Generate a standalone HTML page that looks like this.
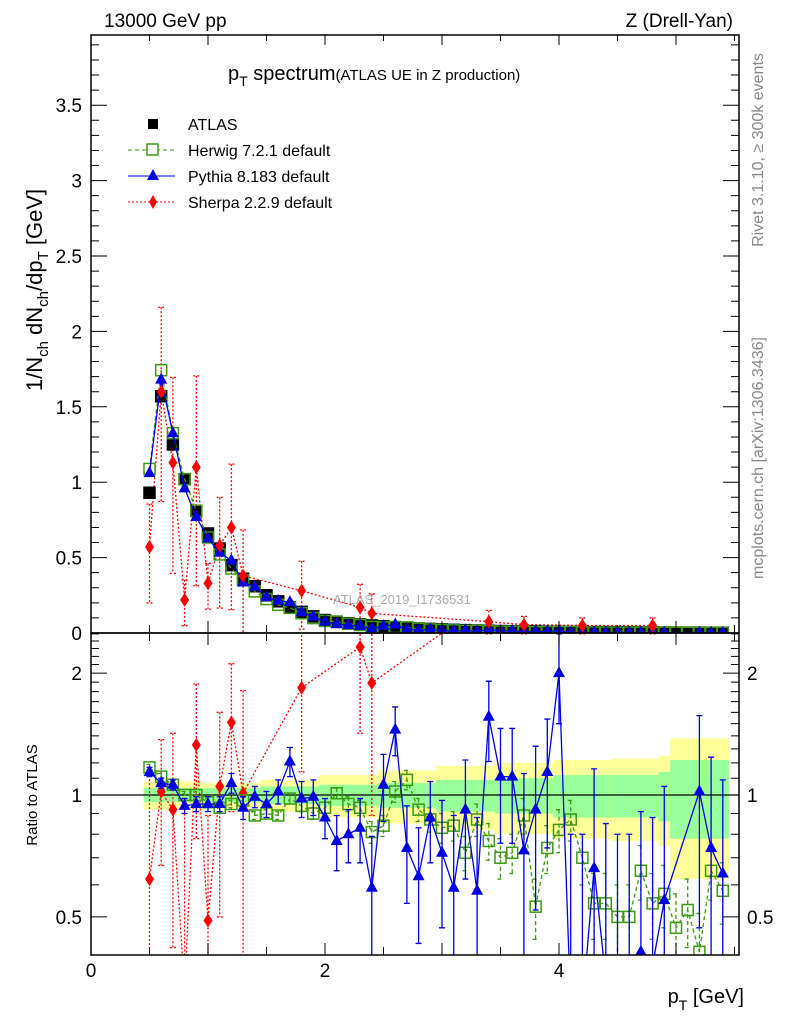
<!DOCTYPE html>
<html><head><meta charset="utf-8"><style>
html,body{margin:0;padding:0;background:#fff;width:786px;height:1024px;overflow:hidden;}
svg{display:block;font-family:"Liberation Sans",Arial,sans-serif;}
</style></head><body>
<svg id="chart" width="786" height="1024" viewBox="0 0 786 1024" xmlns="http://www.w3.org/2000/svg">
<defs>
<clipPath id="clipMain"><rect x="91" y="35" width="648" height="598"/></clipPath>
<clipPath id="clipRatio"><rect x="91" y="633" width="648" height="322"/></clipPath>
</defs>
<g id="bands" clip-path="url(#clipRatio)"></g>
<g id="mainMarks" clip-path="url(#clipMain)"></g>
<g id="ratioMarks" clip-path="url(#clipRatio)"></g>
<g id="axes"></g>
<text x="104" y="27" font-size="19">13000 GeV pp</text>
<text x="733" y="27" font-size="19" text-anchor="end">Z (Drell-Yan)</text>
<text x="228" y="80" font-size="20">p<tspan font-size="14" dy="6">T</tspan><tspan dy="-6"> spectrum</tspan><tspan font-size="15">(ATLAS UE in Z production)</tspan></text>
<text x="333" y="604" font-size="13" fill="#aaa">ATLAS_2019_I1736531</text>
<text transform="translate(763,150) rotate(-90)" font-size="16" fill="#888" text-anchor="middle">Rivet 3.1.10, ≥ 300k events</text>
<text transform="translate(763,458) rotate(-90)" font-size="16" fill="#888" text-anchor="middle">mcplots.cern.ch [arXiv:1306.3436]</text>
<text transform="translate(42,290) rotate(-90)" font-size="22" text-anchor="middle">1/N<tspan font-size="15" dy="6">ch</tspan><tspan dy="-6"> dN</tspan><tspan font-size="15" dy="6">ch</tspan><tspan dy="-6">/dp</tspan><tspan font-size="15" dy="6">T</tspan><tspan dy="-6"> [GeV]</tspan></text>
<text transform="translate(37,795) rotate(-90)" font-size="15" text-anchor="middle">Ratio to ATLAS</text>
<text x="744" y="1003" font-size="20" text-anchor="end">p<tspan font-size="14" dy="7">T</tspan><tspan dy="-7"> [GeV]</tspan></text>
<g id="legend">
<rect x="148" y="119" width="10" height="10" fill="#000"/>
<text x="188" y="130" font-size="16">ATLAS</text>
<line x1="128" y1="150" x2="175" y2="150" stroke="#3a9a10" stroke-dasharray="4,3"/>
<rect x="147" y="144" width="11" height="11" fill="#fff" stroke="#3a9a10" stroke-width="1.5"/>
<text x="188" y="156" font-size="16">Herwig 7.2.1 default</text>
<line x1="128" y1="176" x2="175" y2="176" stroke="#0000e0"/>
<path d="M153,169 L159,180 L147,180 Z" fill="#0000e0"/>
<text x="188" y="182" font-size="16">Pythia 8.183 default</text>
<line x1="128" y1="202" x2="175" y2="202" stroke="#f00" stroke-dasharray="2,2"/>
<path d="M153,195 L157,202 L153,209 L149,202 Z" fill="#f00"/>
<text x="188" y="208" font-size="16">Sherpa 2.2.9 default</text>
</g>
</svg>
<script>
const pt = [0.5,0.6,0.7,0.8,0.9,1.0,1.1,1.2,1.3,1.4,1.5,1.6,1.7,1.8,1.9,2.0,2.1,2.2,2.3,2.4,2.5,2.6,2.7,2.8,2.9,3.0,3.1,3.2,3.3,3.4,3.5,3.6,3.7,3.8,3.9,4.0,4.1,4.2,4.3,4.4,4.5,4.6,4.7,4.8,4.9,5.0,5.1,5.2,5.3,5.4];
const atlas = [0.93,1.57,1.25,1.02,0.81,0.66,0.56,0.45,0.36,0.31,0.25,0.21,0.17,0.14,0.11,0.086,0.075,0.065,0.057,0.05,0.044,0.039,0.034,0.030,0.027,0.024,0.021,0.019,0.017,0.015,0.013,0.012,0.011,0.010,0.009,0.008,0.007,0.0065,0.006,0.0055,0.005,0.0045,0.004,0.0037,0.0034,0.003,0.0028,0.0026,0.0024,0.0022];
const herwigRatio = [1.17,1.11,1.06,1.0,1.0,0.96,0.93,0.95,0.97,0.89,0.9,0.89,0.98,0.94,0.9,0.93,1.01,0.95,0.93,0.81,0.84,1.02,1.09,0.92,0.87,0.83,0.84,0.72,0.87,0.77,0.70,0.72,0.89,0.53,0.74,0.82,0.87,0.70,0.54,0.54,0.50,0.50,0.65,0.54,0.57,0.47,0.52,0.41,0.65,0.58];
const herwigErr = [0.02,0.02,0.02,0.02,0.02,0.02,0.02,0.02,0.02,0.02,0.02,0.02,0.03,0.03,0.03,0.03,0.03,0.04,0.04,0.05,0.05,0.06,0.06,0.06,0.06,0.07,0.07,0.07,0.08,0.08,0.08,0.08,0.09,0.09,0.1,0.1,0.1,0.1,0.1,0.1,0.1,0.1,0.1,0.1,0.1,0.1,0.1,0.1,0.1,0.1];
const pythiaRatio = [1.14,1.07,1.06,0.94,0.95,0.95,0.95,1.07,0.93,0.99,0.95,1.02,1.21,0.98,0.99,0.88,0.77,0.80,0.83,0.59,1.06,1.45,0.74,0.63,0.88,0.72,0.59,0.92,0.58,1.56,1.11,1.11,0.73,0.92,1.14,2.0,0.3,0.3,0.66,0.35,0.3,0.3,0.41,0.38,0.55,null,null,1.02,0.74,0.64];
const pythiaErr = [0.03,0.03,0.03,0.04,0.04,0.04,0.04,0.06,0.06,0.06,0.07,0.07,0.1,0.1,0.1,0.1,0.12,0.12,0.15,0.2,0.2,0.2,0.2,0.2,0.2,0.25,0.3,0.3,0.3,0.35,0.35,0.35,0.4,0.4,0.4,0.5,0.5,0.5,0.5,0.5,0.5,0.5,0.5,0.5,0.5,0.5,0.5,0.55,0.5,0.45];
const sherpaPt = [0.5,0.6,0.7,0.8,0.9,1.0,1.1,1.2,1.3,1.8,2.3,2.4,3.4,3.7,4.2,4.8];
const sherpaMain = [0.57,1.6,1.13,0.22,1.10,0.33,0.58,0.70,0.38,0.28,0.17,0.13,0.075,0.055,0.05,0.05];
const sherpaRatio = [0.62,1.02,0.92,0.3,1.33,0.49,1.05,1.51,1.01,1.84,2.32,1.89,3.5,3.5,3.5,3.5];
const sherpaErr = [0.5,0.35,0.5,0.6,0.55,0.4,0.55,0.6,0.8,0.7,0.9,1.0,1.0,1.0,1.0,1.0];
const bandPt = [0.5,1.0,1.5,2.0,2.5,3.0,3.5,4.0,4.5,4.9,5.0,5.5];
const greenHalf = [0.04,0.04,0.05,0.06,0.07,0.09,0.1,0.12,0.12,0.14,0.22,0.2];
const yellowHalf = [0.08,0.07,0.09,0.12,0.15,0.18,0.2,0.22,0.23,0.25,0.38,0.36];

const NS="http://www.w3.org/2000/svg";
const X = v => 91 + v*117;
const Y = v => 633 - v*150.8;
const R = r => 795 - 405*Math.log10(r);
function el(tag, attrs, parent){const e=document.createElementNS(NS,tag);for(const k in attrs)e.setAttribute(k,attrs[k]);parent.appendChild(e);return e;}
const gM=document.getElementById('mainMarks'), gR=document.getElementById('ratioMarks'), gB=document.getElementById('bands'), gA=document.getElementById('axes');
const clampY=(y,lo,hi)=>Math.min(hi,Math.max(lo,y));

for(let i=0;i<bandPt.length-1;i++){
  const x0=X(bandPt[i]-0.05), x1=X(bandPt[i+1]-0.05);
  const y=el('rect',{x:x0,y:R(1+yellowHalf[i]),width:x1-x0+0.5,height:R(1-yellowHalf[i])-R(1+yellowHalf[i]),fill:'#ffff99'},gB);
  
  
  const g=el('rect',{x:x0,y:R(1+greenHalf[i]),width:x1-x0+0.5,height:R(1-greenHalf[i])-R(1+greenHalf[i]),fill:'#99ff99'},gB);
  
  
}
el('line',{x1:91,y1:795,x2:739,y2:795,stroke:'#000','stroke-width':1.2},gR);

function polyline(xs, ys, parent, stroke, dash, name, lo, hi){
  let d='';
  for(let i=0;i<xs.length;i++){ if(ys[i]==null) continue; d+=(d?'L':'M')+xs[i].toFixed(1)+','+ys[i].toFixed(1);}
  const p=el('path',{d:d,fill:'none',stroke:stroke,'stroke-width':1.3,'stroke-dasharray':dash||'none'},parent);
  
  
}
function square(x,y,parent,fill,stroke,name){
  const r=el('rect',{x:x-5.5,y:y-5.5,width:11,height:11,fill:fill,stroke:stroke,'stroke-width':1.5},parent);
  
  
}
function tri(x,y,parent,name){
  const p=el('path',{d:`M${x},${y-7} L${x+6},${y+4} L${x-6},${y+4} Z`,fill:'#0000e0'},parent);
  
  
}
function diamond(x,y,parent,name){
  const p=el('path',{d:`M${x},${y-7} L${x+4.5},${y} L${x},${y+7} L${x-4.5},${y} Z`,fill:'#f00'},parent);
  
  
}
function errbar(x,y0,y1,parent,stroke,dash,name,lo,hi){
  y0=clampY(y0,lo,hi); y1=clampY(y1,lo,hi);
  const l=el('path',{d:`M${x},${y0}L${x},${y1}M${x-3},${y0}L${x+3},${y0}M${x-3},${y1}L${x+3},${y1}`,stroke:stroke,'stroke-width':1.3,fill:'none','stroke-dasharray':dash||'none'},parent);
  
  
}

const xs = pt.map(X);
polyline(sherpaPt.map(X), sherpaMain.map(Y), gM, '#f00', '2,2', 'sherpa-main-line');
sherpaPt.forEach((p,i)=>{ errbar(X(p), Y(sherpaMain[i]*(1+sherpaErr[i])), Y(Math.max(0,sherpaMain[i]*(1-sherpaErr[i]*1.3))), gM, '#f00','2,2','sherpa-main-error',35,640); });
pt.forEach((p,i)=>square(X(p),Y(atlas[i]),gM,'#000','#000','atlas-point'));
const hMain = atlas.map((a,i)=>a*herwigRatio[i]);
polyline(xs, hMain.map(Y), gM, '#3a9a10', '4,3', 'herwig-main-line');
pt.forEach((p,i)=>square(X(p),Y(hMain[i]),gM,'none','#3a9a10','herwig-main-point'));
const pMain = atlas.map((a,i)=>pythiaRatio[i]==null?null:a*pythiaRatio[i]);
polyline(xs, pMain.map(v=>v==null?null:Y(v)), gM, '#0000e0', null, 'pythia-main-line');
pt.forEach((p,i)=>{ if(pMain[i]!=null) tri(X(p),Y(pMain[i]),gM,'pythia-main-point'); });
sherpaPt.forEach((p,i)=>diamond(X(p),Y(sherpaMain[i]),gM,'sherpa-main-point'));

const rY = v => clampY(R(v), 600, 990);
polyline(sherpaPt.map(X), sherpaRatio.map(rY), gR, '#f00', '2,2', 'sherpa-ratio-line');
sherpaPt.forEach((p,i)=>{ errbar(X(p), R(sherpaRatio[i]+sherpaErr[i]), R(Math.max(0.05,sherpaRatio[i]-sherpaErr[i])), gR, '#f00','2,2','sherpa-ratio-error',630,958); });
sherpaPt.forEach((p,i)=>{ if(R(sherpaRatio[i])>620) diamond(X(p),R(sherpaRatio[i]),gR,'sherpa-ratio-point'); });
polyline(xs, herwigRatio.map(R), gR, '#3a9a10', '4,3', 'herwig-ratio-line');
pt.forEach((p,i)=>{ errbar(X(p), R(herwigRatio[i]+herwigErr[i]), R(herwigRatio[i]-herwigErr[i]), gR, '#3a9a10','4,3','herwig-ratio-error',630,958); });
pt.forEach((p,i)=>square(X(p),R(herwigRatio[i]),gR,'none','#3a9a10','herwig-ratio-point'));
polyline(xs, pythiaRatio.map(v=>v==null?null:R(v)), gR, '#0000e0', null, 'pythia-ratio-line');
pt.forEach((p,i)=>{ if(pythiaRatio[i]==null) return; errbar(X(p), R(pythiaRatio[i]+pythiaErr[i]), R(Math.max(0.05,pythiaRatio[i]-pythiaErr[i])), gR, '#0000e0',null,'pythia-ratio-error',630,958); });
pt.forEach((p,i)=>{ if(pythiaRatio[i]!=null) tri(X(p),R(pythiaRatio[i]),gR,'pythia-ratio-point'); });

const mainTicks=[0,0.5,1,1.5,2,2.5,3,3.5];
const mainTickLabels=['0','0.5','1','1.5','2','2.5','3','3.5'];
const xTickLabels=['0','2','4'];
const xTickVals=[0,2,4];
const ratioTickVals=[0.5,1,2];
const ratioTickLabels=['0.5','1','2'];
let s='';
s+='<rect x="91" y="35" width="648" height="598" fill="none" stroke="#000" stroke-width="1.5"/>';
s+='<rect x="91" y="633" width="648" height="322" fill="none" stroke="#000" stroke-width="1.5"/>';
for(let v=0; v<=3.95; v+=0.1){ const y=Y(v); const maj=Math.abs(v*2-Math.round(v*2))<1e-6; const L=maj?16:8; s+=`<path d="M91,${y}h${L}M739,${y}h${-L}" stroke="#000"/>`; }
for(let v=0.5; v<5.55; v+=0.5){ const x=X(v); const L=Math.abs(v-Math.round(v))<1e-6?12:8;
  s+=`<path d="M${x},633v${-L}M${x},35v${L-2}M${x},955v${-L}M${x},633v${L}" stroke="#000"/>`; }
const rt=[0.5,0.6,0.7,0.8,0.9,1,1.1,1.2,1.3,1.4,1.5,1.6,1.7,1.8,1.9,2,2.1,2.2,2.3,2.4,2.5];
rt.forEach(v=>{ const y=R(v); const L=(v==0.5||v==1||v==2)?16:8; s+=`<path d="M91,${y}h${L}M739,${y}h${-L}" stroke="#000"/>`; });
gA.innerHTML=s;
mainTicks.forEach((v,i)=>{ const t=el('text',{x:82,y:Y(v)+7,'font-size':19,'text-anchor':'end'},gA); t.textContent=mainTickLabels[i];
  
   });
xTickVals.forEach((v,i)=>{ const t=el('text',{x:X(v),y:977,'font-size':19,'text-anchor':'middle'},gA); t.textContent=xTickLabels[i];
  
   });
ratioTickVals.forEach((v,i)=>{ const t=el('text',{x:82,y:R(v)+7,'font-size':19,'text-anchor':'end'},gA); t.textContent=ratioTickLabels[i];
  
  
  const t2=el('text',{x:747,y:R(v)+7,'font-size':19},gA); t2.textContent=ratioTickLabels[i];
  
   });
</script>
</body></html>
